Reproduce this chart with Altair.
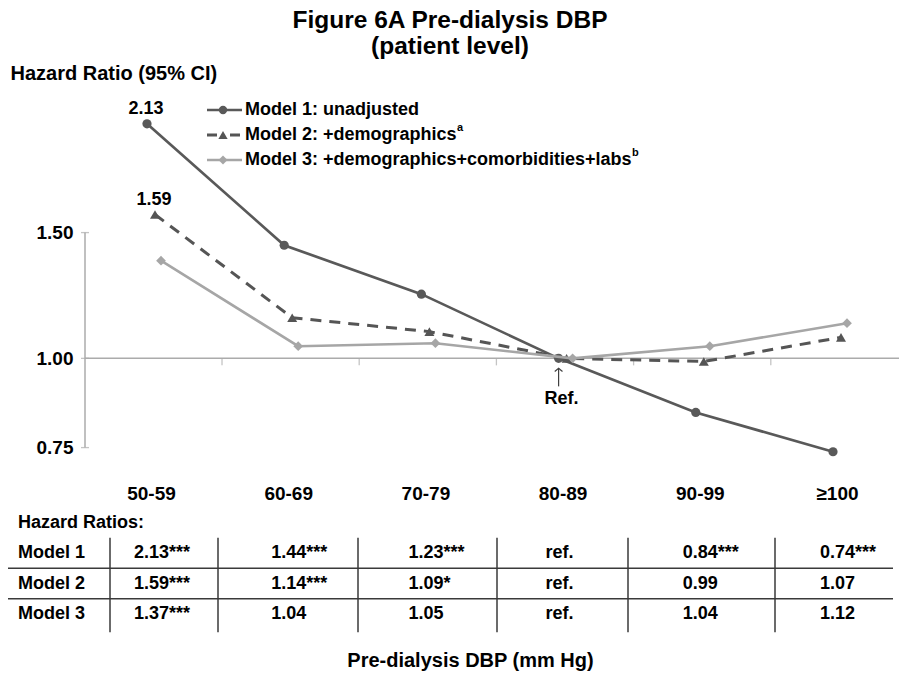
import altair as alt
import pandas as pd

# ---------------- data ----------------
categories = ["50-59", "60-69", "70-79", "80-89", "90-99", "≥100"]
series_names = ["Model 1: unadjusted",
                "Model 2: +demographics",
                "Model 3: +demographics+comorbidities+labs"]
superscripts = ["", "a", "b"]
model1_hr = [2.13, 1.44, 1.23, 1.00, 0.84, 0.74]
model2_hr = [1.59, 1.14, 1.09, 1.00, 0.99, 1.07]
model3_hr = [1.37, 1.04, 1.05, 1.00, 1.04, 1.12]
model1_txt = ["2.13***", "1.44***", "1.23***", "ref.", "0.84***", "0.74***"]
model2_txt = ["1.59***", "1.14***", "1.09*", "ref.", "0.99", "1.07"]
model3_txt = ["1.37***", "1.04", "1.05", "ref.", "1.04", "1.12"]
row_labels = ["Model 1", "Model 2", "Model 3"]
y_ticks = [0.75, 1.00, 1.50]
labelled_series = [0, 1]          # series whose first value is annotated

hr_all = [model1_hr, model2_hr, model3_hr]
txt_all = [model1_txt, model2_txt, model3_txt]

# ---------------- layout / style ----------------
W, H = 814, 369
FONT = "Liberation Sans"
AXIS_C = "#ababab"
TABLE_C = "#3a3a3a"
styles = [
    dict(color="#595959", dash=None, shape="circle", size=85, off=0, width=2.7),
    dict(color="#555555", dash=[11, 8], shape="triangle-up", size=100, off=8, width=3),
    dict(color="#a6a6a6", dash=None, shape="diamond", size=95, off=14, width=2.6),
]
legend_y = [10, 35, 60]
legend_sup_x = [None, 372, 547]

xscale = alt.Scale(type="point", domain=categories, range=[62, 748], padding=0)
logy = alt.Scale(type="log", domain=[0.7, 2.3], nice=False)
rowy = alt.Scale(type="linear", domain=[0, 1], range=[453, 483.5], nice=False, zero=False)

x_axis = alt.Axis(title="Pre-dialysis DBP (mm Hg)", domain=False, ticks=False, tickSize=0,
                  grid=False, labelAngle=0, labelFontSize=19, labelFontWeight="bold",
                  labelColor="black", labelBaseline="middle", labelPadding=24, labelOffset=4,
                  titleFontSize=20, titleFontWeight="bold", titleColor="black",
                  titleX=385, titleY=191, titleAlign="center", titleBaseline="middle",
                  titleAnchor="start")


def X():
    return alt.X("cat:N", scale=xscale, sort=categories, axis=x_axis)


# ---------------- dataframes ----------------
rows = []
for s, (name, vals) in enumerate(zip(series_names, hr_all)):
    for i, (c, v) in enumerate(zip(categories, vals)):
        rows.append(dict(series=name, s=s, cat=c, i=i, hr=v))
df = pd.DataFrame(rows)

tab = []
for r, txts in enumerate(txt_all):
    for c, t in zip(categories, txts):
        tab.append(dict(row=r, cat=c, txt=t))
tab_df = pd.DataFrame(tab)
rowlab_df = pd.DataFrame({"row": list(range(len(row_labels))), "label": row_labels})
ref_cat = categories[model1_txt.index("ref.")]

layers = []

# y axis (carried by an invisible layer)
layers.append(
    alt.Chart(df).mark_point(opacity=0).encode(
        x=X(),
        y=alt.Y("hr:Q", scale=logy,
                axis=alt.Axis(values=y_ticks, format=".2f", domain=False, ticks=False, tickSize=0,
                              grid=False, labelFontSize=19, labelFontWeight="bold",
                              labelColor="black", labelPadding=12,
                              title="Hazard Ratio (95% CI)", titleAngle=0, titleX=-75, titleY=-27,
                              titleAlign="left", titleBaseline="middle", titleFontSize=20,
                              titleFontWeight="bold", titleColor="black")),
    )
)

# axis lines and cross ticks
layers.append(
    alt.Chart(pd.DataFrame({"a": [0]})).mark_rule(color=AXIS_C, strokeWidth=1.5).encode(
        x=alt.value(0),
        y=alt.YDatum(y_ticks[0], scale=logy, axis=None),
        y2=alt.Y2Datum(y_ticks[-1]),
    )
)
layers.append(
    alt.Chart(pd.DataFrame({"a": [0]})).mark_rule(color=AXIS_C, strokeWidth=1.5).encode(
        x=alt.value(0), x2=alt.value(W),
        y=alt.YDatum(1.0, scale=logy, axis=None),
    )
)
layers.append(
    alt.Chart(pd.DataFrame({"v": y_ticks})).mark_tick(
        orient="horizontal", size=8, thickness=1.3, color=AXIS_C).encode(
        x=alt.value(0), y=alt.Y("v:Q", scale=logy, axis=None))
)
layers.append(
    alt.Chart(pd.DataFrame({"cat": categories[:-1]})).mark_tick(
        orient="vertical", size=7, thickness=1.3, color=AXIS_C, xOffset=75, yOffset=3.5).encode(
        x=X(), y=alt.YDatum(1.0, scale=logy, axis=None))
)

# series lines and markers
for s, st in enumerate(styles):
    sub = df[df.s == s]
    lk = dict(color=st["color"], strokeWidth=st["width"], xOffset=st["off"])
    if st["dash"]:
        lk["strokeDash"] = st["dash"]
    layers.append(
        alt.Chart(sub).mark_line(**lk).encode(
            x=X(), y=alt.Y("hr:Q", scale=logy, axis=None), order="i:Q")
    )
    layers.append(
        alt.Chart(sub).mark_point(shape=st["shape"], filled=True, size=st["size"],
                                  color=st["color"], opacity=1, xOffset=st["off"]).encode(
            x=X(), y=alt.Y("hr:Q", scale=logy, axis=None))
    )

# data labels on first points
lab_df = df[(df.i == 0) & (df.s.isin(labelled_series))].copy()
lab_df["lab"] = lab_df.hr.map(lambda v: f"{v:.2f}")
for s in labelled_series:
    layers.append(
        alt.Chart(lab_df[lab_df.s == s]).mark_text(
            fontSize=18, fontWeight="bold", color="black", dy=-15,
            xOffset=styles[s]["off"] - 1).encode(
            x=X(), y=alt.Y("hr:Q", scale=logy, axis=None), text="lab:N")
    )

# reference arrow + label
ref_df = pd.DataFrame({"cat": [ref_cat]})
layers.append(
    alt.Chart(ref_df).mark_rule(color="#404040", strokeWidth=1.2, yOffset=10, y2Offset=28).encode(
        x=X(), y=alt.YDatum(1.0, scale=logy, axis=None), y2=alt.Y2Datum(1.0))
)
layers.append(
    alt.Chart(ref_df).mark_point(shape="M -1 0.8 L 0 0 L 1 0.8", filled=False, size=60,
                                 strokeWidth=1.2, color="#404040", opacity=1, yOffset=10).encode(
        x=X(), y=alt.YDatum(1.0, scale=logy, axis=None))
)
layers.append(
    alt.Chart(ref_df).mark_text(text="Ref.", fontSize=18, fontWeight="bold", color="black",
                                dy=41, dx=3).encode(
        x=X(), y=alt.YDatum(1.0, scale=logy, axis=None))
)

# legend
for s, (name, st) in enumerate(zip(series_names, styles)):
    rk = dict(color=st["color"], strokeWidth=st["width"])
    if st["dash"]:
        rk["strokeDash"] = [10, 13]
    one = pd.DataFrame({"a": [0]})
    layers.append(alt.Chart(one).mark_rule(**rk).encode(
        x=alt.value(122), x2=alt.value(157), y=alt.value(legend_y[s])))
    layers.append(alt.Chart(one).mark_point(shape=st["shape"], filled=True, size=st["size"] - 15,
                                            color=st["color"], opacity=1).encode(
        x=alt.value(138), y=alt.value(legend_y[s])))
    layers.append(alt.Chart(one).mark_text(text=name, align="left", baseline="middle",
                                           fontSize=18, fontWeight="bold", color="black").encode(
        x=alt.value(160), y=alt.value(legend_y[s])))
    if superscripts[s]:
        layers.append(alt.Chart(one).mark_text(text=superscripts[s], align="left",
                                               baseline="middle", fontSize=11,
                                               fontWeight="bold", color="black").encode(
            x=alt.value(legend_sup_x[s]), y=alt.value(legend_y[s] - 7)))

# table
layers.append(
    alt.Chart(pd.DataFrame({"a": [0]})).mark_text(
        text="Hazard Ratios:", align="left", baseline="middle", fontSize=18,
        fontWeight="bold", color="black").encode(
        x=alt.value(-67), y=alt.YDatum(-1, scale=rowy, axis=None))
)
layers.append(
    alt.Chart(rowlab_df).mark_text(align="left", baseline="middle", fontSize=18,
                                   fontWeight="bold", color="black").encode(
        x=alt.value(-67), y=alt.Y("row:Q", scale=rowy, axis=None), text="label:N")
)
layers.append(
    alt.Chart(tab_df).mark_text(align="left", baseline="middle", fontSize=18,
                                fontWeight="bold", color="black", dx=-13).encode(
        x=X(), y=alt.Y("row:Q", scale=rowy, axis=None), text="txt:N")
)
for rr in [0.5, 1.5]:
    layers.append(
        alt.Chart(pd.DataFrame({"a": [0]})).mark_rule(color=TABLE_C, strokeWidth=1.5).encode(
            x=alt.value(-77), x2=alt.value(808), y=alt.YDatum(rr, scale=rowy, axis=None))
    )
for vx in [25, 133, 273, 412, 543, 690]:
    layers.append(
        alt.Chart(pd.DataFrame({"a": [0]})).mark_rule(color=TABLE_C, strokeWidth=1.5).encode(
            x=alt.value(vx), y=alt.YDatum(-0.5, scale=rowy, axis=None), y2=alt.Y2Datum(2.6))
    )

chart = alt.layer(*layers).resolve_scale(y="independent").properties(
    width=W, height=H,
    padding={"left": 85, "top": 100, "right": 1, "bottom": 206},
    autosize=alt.AutoSizeParams(type="none"),
    title=alt.Title(["Figure 6A Pre-dialysis DBP", "(patient level)"], fontSize=24.5,
                    fontWeight="bold", font=FONT, color="black", anchor="middle",
                    frame="group", dx=-42, offset=4, lineHeight=26),
).configure(font=FONT, background="white").configure_view(stroke=None)

chart.save("out.html", embed_options={"renderer": "svg", "actions": False})
